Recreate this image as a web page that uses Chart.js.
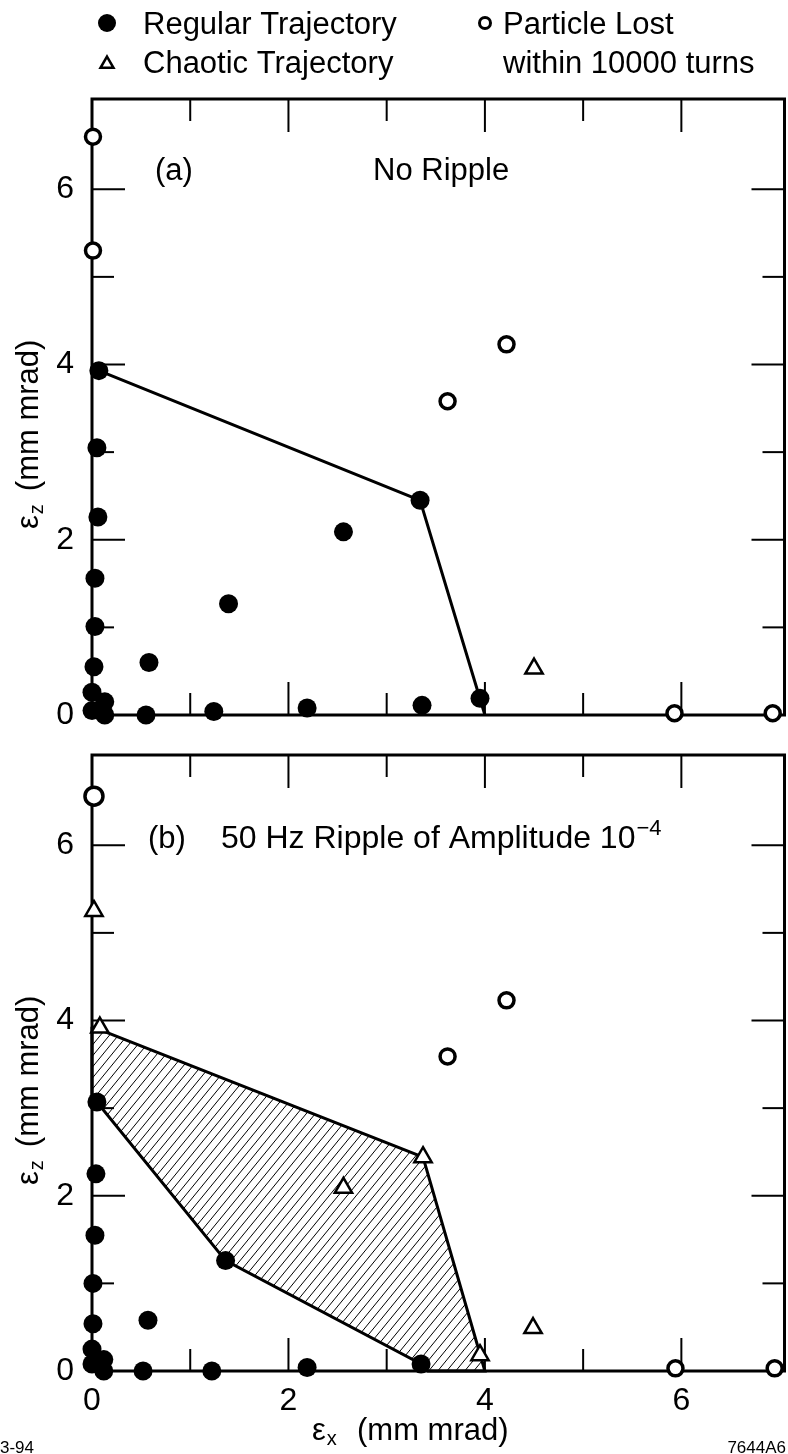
<!DOCTYPE html>
<html>
<head>
<meta charset="utf-8">
<title>Dynamic aperture with and without ripple</title>
<script src="https://cdn.jsdelivr.net/npm/chart.js@4.4.1/dist/chart.umd.min.js"></script>
<style>
  html, body { margin:0; padding:0; background:#fff; overflow:hidden; }
  body { width:788px; height:1454px; position:relative; }
  .panel { position:absolute; left:0; width:788px; overflow:hidden; }
  .panel canvas { display:block; }
  #pa { top:0; height:740px; }
  #pb { top:740px; height:714px; }
</style>
</head>
<body>
<div class="panel" id="pa"><canvas id="chartA"></canvas></div>
<div class="panel" id="pb"><canvas id="chartB"></canvas></div>
<script>
// ---------------- data ----------------
const tickLabels = ['0', '2', '4', '6'];
const majorTicks = [2, 4, 6];
const minorTicks = [1, 3, 5];
const rangeX = [0, 7.05];
const rangeY = [0, 7.03];

// Panel (a): No Ripple
const aRegularX = [0.07, 0.05, 0.06, 0.03, 0.03, 0.02, 0.00, 0.13, 0.00, 0.13, 0.55, 0.58, 1.39, 1.24, 2.19, 3.36, 2.56, 3.34, 3.95];
const aRegularY = [3.93, 3.05, 2.26, 1.56, 1.01, 0.55, 0.26, 0.15, 0.05, 0.00, 0.00, 0.60, 1.27, 0.04, 0.08, 0.11, 2.09, 2.45, 0.19];
const aChaoticX = [4.50];
const aChaoticY = [0.53];
const aLostX = [0.01, 0.01, 3.62, 4.22, 5.93, 6.93];
const aLostY = [6.60, 5.30, 3.58, 4.23, 0.02, 0.02];
const aBoundaryX = [0.07, 3.34, 4.00];
const aBoundaryY = [3.93, 2.45, 0.00];

// Panel (b): 50 Hz ripple of amplitude 1e-4
const bRegularX = [0.05, 0.04, 0.03, 0.01, 0.01, 0.00, 0.12, 0.00, 0.12, 0.52, 0.57, 1.36, 1.22, 2.19, 3.35];
const bRegularY = [3.07, 2.25, 1.55, 1.00, 0.54, 0.25, 0.13, 0.08, 0.00, 0.00, 0.58, 1.26, 0.00, 0.04, 0.08];
const bChaoticX = [0.02, 0.08, 3.37, 2.56, 3.95, 4.49];
const bChaoticY = [5.25, 3.92, 2.44, 2.09, 0.18, 0.49];
const bLostX = [0.02, 3.62, 4.22, 5.94, 6.95];
const bLostY = [6.56, 3.59, 4.23, 0.03, 0.03];
const bRegionX = [0.00, 3.37, 4.00, 3.42, 3.35, 1.36, 0.05, 0.00, 0.00];
const bRegionY = [3.93, 2.44, 0.00, 0.00, 0.08, 1.26, 3.07, 3.12, 3.93];

// ---------------- helpers ----------------
const FONT = '"Liberation Sans", Arial, Helvetica, sans-serif';
const TS = 31; // annotation text size
const pts = (xs, ys) => xs.map((x, i) => ({ x: x, y: ys[i] }));

function hatchPattern() {
  const c = document.createElement('canvas');
  c.width = 9; c.height = 11;
  const g = c.getContext('2d');
  g.strokeStyle = '#000';
  g.lineWidth = 1;
  g.beginPath();
  g.moveTo(-0.9, 12.1); g.lineTo(9.9, -1.1);
  g.moveTo(-0.9, 1.1); g.lineTo(0.9, -1.1);
  g.moveTo(8.1, 12.1); g.lineTo(9.9, 9.9);
  g.stroke();
  return g.createPattern(c, 'repeat');
}

function sText(ctx, s, x, y, size, align) {
  ctx.save();
  ctx.font = size + 'px ' + FONT;
  ctx.fillStyle = '#000';
  ctx.textBaseline = 'alphabetic';
  ctx.textAlign = align || 'left';
  ctx.fillText(s, x, y);
  const w = ctx.measureText(s).width;
  ctx.restore();
  return w;
}

function yTitle(ctx, xBase, yStart) {
  ctx.save();
  ctx.translate(xBase, yStart);
  ctx.rotate(-Math.PI / 2);
  ctx.fillStyle = '#000';
  ctx.textBaseline = 'alphabetic';
  ctx.font = TS + 'px ' + FONT;
  ctx.fillText('\u03B5', 0, 0);
  let u = ctx.measureText('\u03B5').width + 1;
  ctx.font = '20px ' + FONT;
  ctx.fillText('z', u, 5);
  u += ctx.measureText('z').width + 13;
  ctx.font = TS + 'px ' + FONT;
  ctx.fillText('(mm mrad)', u, 0);
  ctx.restore();
}

const framePlugin = {
  id: 'frame',
  beforeDatasetsDraw(chart) {
    const { ctx, chartArea: a, scales: { x, y } } = chart;
    ctx.save();
    ctx.strokeStyle = '#000';
    ctx.lineWidth = 2;
    const seg = (x1, y1, x2, y2) => { ctx.beginPath(); ctx.moveTo(x1, y1); ctx.lineTo(x2, y2); ctx.stroke(); };
    const draw = (vals, len) => {
      vals.forEach(v => {
        const px = x.getPixelForValue(v);
        seg(px, a.top, px, a.top + len);
        seg(px, a.bottom, px, a.bottom - len);
        const py = y.getPixelForValue(v);
        seg(a.left, py, a.left + len, py);
        seg(a.right, py, a.right - len, py);
      });
    };
    draw(majorTicks, 33);
    draw(minorTicks, 22);
    ctx.lineWidth = 3;
    ctx.strokeRect(a.left, a.top, a.right - a.left, a.bottom - a.top);
    ctx.restore();
  }
};

function baseOptions(padTop, xHeight, showXLabels) {
  return {
    responsive: true,
    maintainAspectRatio: false,
    animation: false,
    events: [],
    layout: { autoPadding: false, padding: { top: padTop, right: 3.5, bottom: 0, left: 0 } },
    plugins: { legend: { display: false }, tooltip: { enabled: false } },
    scales: {
      x: {
        type: 'linear', min: rangeX[0], max: rangeX[1],
        grid: { display: false, drawTicks: false },
        border: { display: false },
        ticks: {
          display: showXLabels, stepSize: 1, autoSkip: false, maxRotation: 0,
          padding: 11, color: '#000', font: { family: FONT, size: 32 },
          callback: v => tickLabels.includes(String(v)) ? String(v) : ''
        },
        afterFit: s => { s.height = xHeight; s.paddingLeft = 0; s.paddingRight = 0; }
      },
      y: {
        type: 'linear', min: rangeY[0], max: rangeY[1],
        grid: { display: false, drawTicks: false },
        border: { display: false },
        ticks: {
          stepSize: 1, autoSkip: false, padding: 18, color: '#000',
          font: { family: FONT, size: 32 },
          callback: v => tickLabels.includes(String(v)) ? String(v) : ''
        },
        afterFit: s => { s.width = 92; s.paddingTop = 0; s.paddingBottom = 0; }
      }
    }
  };
}

const regularStyle = { pointStyle: 'circle', pointRadius: 9.5, backgroundColor: '#000', borderColor: '#000', borderWidth: 0, clip: false };
const chaoticStyle = { pointStyle: 'triangle', pointRadius: 10, backgroundColor: '#fff', borderColor: '#000', borderWidth: 2.5, clip: false };
const lostStyle = { pointStyle: 'circle', pointRadius: 7.5, backgroundColor: '#fff', borderColor: '#000', borderWidth: 3.5, clip: false };

// ---------------- chart (a) ----------------
const annotA = {
  id: 'annotA',
  afterDraw(chart) {
    const ctx = chart.ctx;
    ctx.save();
    // legend markers
    ctx.fillStyle = '#000';
    ctx.beginPath(); ctx.arc(107, 23, 9, 0, Math.PI * 2); ctx.fill();
    ctx.lineWidth = 2.5; ctx.strokeStyle = '#000'; ctx.fillStyle = '#fff';
    const r = 7.5, cx = 107, cy = 64;
    ctx.beginPath();
    ctx.moveTo(cx, cy - r);
    ctx.lineTo(cx + r * Math.sin(2 * Math.PI / 3), cy - r * Math.cos(2 * Math.PI / 3));
    ctx.lineTo(cx + r * Math.sin(4 * Math.PI / 3), cy - r * Math.cos(4 * Math.PI / 3));
    ctx.closePath(); ctx.fill(); ctx.stroke();
    ctx.lineWidth = 3;
    ctx.beginPath(); ctx.arc(485, 23, 5.5, 0, Math.PI * 2); ctx.fill(); ctx.stroke();
    ctx.restore();
    sText(ctx, 'Regular Trajectory', 143, 34, TS);
    sText(ctx, 'Chaotic Trajectory', 143, 73, TS);
    sText(ctx, 'Particle Lost', 503, 34, TS);
    sText(ctx, 'within 10000 turns', 503, 73, TS);
    sText(ctx, '(a)', 155, 180, TS);
    sText(ctx, 'No Ripple', 373, 180, TS);
    yTitle(ctx, 38, 529);
  }
};

new Chart(document.getElementById('chartA'), {
  type: 'scatter',
  data: {
    datasets: [
      Object.assign({ label: 'Regular Trajectory', data: pts(aRegularX, aRegularY) }, regularStyle),
      Object.assign({ label: 'Chaotic Trajectory', data: pts(aChaoticX, aChaoticY) }, chaoticStyle),
      Object.assign({ label: 'Particle Lost within 10000 turns', data: pts(aLostX, aLostY) }, lostStyle),
      { label: 'Boundary', data: pts(aBoundaryX, aBoundaryY), showLine: true, borderColor: '#000', borderWidth: 3,
        pointRadius: 0, fill: false, tension: 0, clip: false }
    ]
  },
  options: baseOptions(99, 25, false),
  plugins: [framePlugin, annotA]
});

// ---------------- chart (b) ----------------
const annotB = {
  id: 'annotB',
  afterDraw(chart) {
    const ctx = chart.ctx;
    sText(ctx, '(b)', 148, 108, TS);
    const w = sText(ctx, '50 Hz Ripple of Amplitude 10', 221, 108, 32);
    sText(ctx, '\u22124', 221 + w + 1, 95, 22);
    yTitle(ctx, 38, 445);
    // x axis title
    const w1 = sText(ctx, '\u03B5', 312, 700, TS);
    sText(ctx, 'x', 312 + w1 + 1, 705, 20);
    sText(ctx, '(mm mrad)', 357, 700, TS);
    ctx.save();
    ctx.fillStyle = '#000';
    ctx.font = '17px ' + FONT;
    ctx.textBaseline = 'alphabetic';
    ctx.textAlign = 'left';
    ctx.fillText('3-94', 0, 713);
    ctx.textAlign = 'right';
    ctx.fillText('7644A6', 786, 713);
    ctx.restore();
  }
};

new Chart(document.getElementById('chartB'), {
  type: 'scatter',
  data: {
    datasets: [
      Object.assign({ label: 'Regular Trajectory', data: pts(bRegularX, bRegularY) }, regularStyle),
      Object.assign({ label: 'Chaotic Trajectory', data: pts(bChaoticX, bChaoticY) }, chaoticStyle),
      Object.assign({ label: 'Particle Lost within 10000 turns', data: pts(bLostX, bLostY) }, lostStyle,
        { pointRadius: c => c.dataIndex === 0 ? 9 : 7.5 }),
      { label: 'Region', data: pts(bRegionX, bRegionY), showLine: true, borderColor: '#000', borderWidth: 3,
        pointRadius: 0, fill: 'shape', backgroundColor: hatchPattern(), tension: 0, clip: false }
    ]
  },
  options: baseOptions(15, 83, true),
  plugins: [framePlugin, annotB]
});
</script>
</body>
</html>
